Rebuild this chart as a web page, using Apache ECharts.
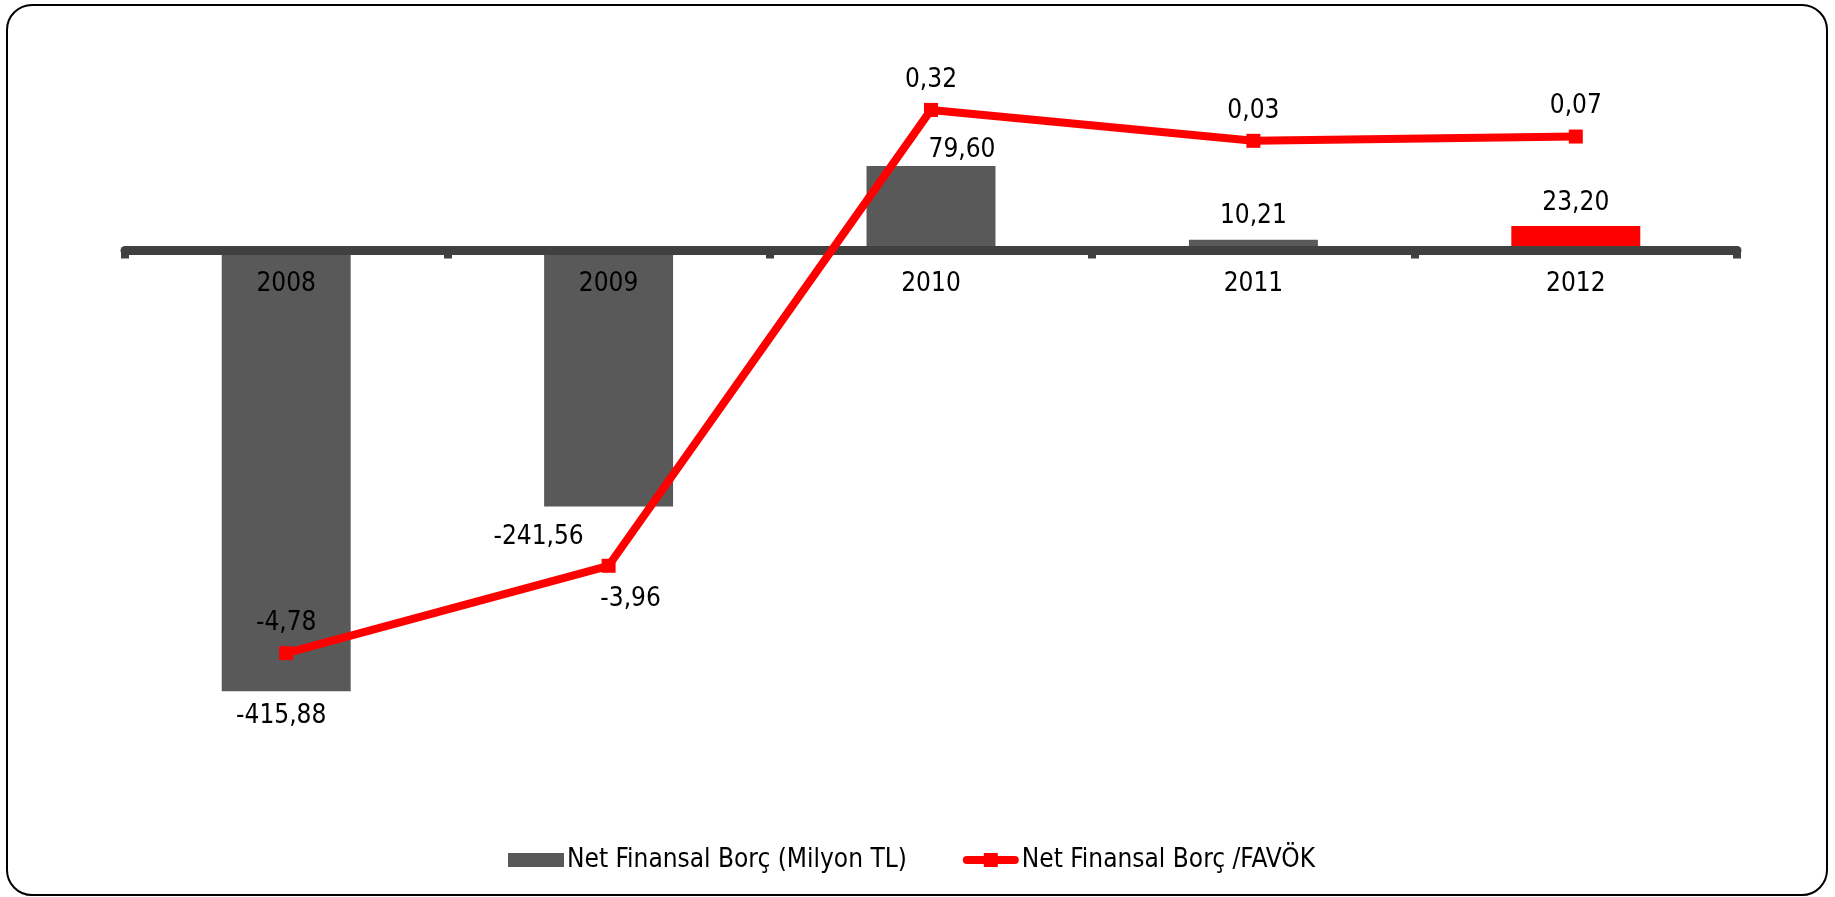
<!DOCTYPE html>
<html>
<head>
<meta charset="utf-8">
<script src="https://cdn.jsdelivr.net/npm/echarts@6/dist/echarts.min.js"></script>
<style>
  html, body { margin: 0; padding: 0; background: #fff; }
  #chart { width: 1835px; height: 897px; }
</style>
</head>
<body>
<div id="chart"></div>
<script>
// veriler
var years = ['2008', '2009', '2010', '2011', '2012']
var netDebt = [-415.88, -241.56, 79.60, 10.21, 23.20]
var debtToEbitda = [-4.78, -3.96, 0.32, 0.03, 0.07]

var barNames = 'Net Finansal Borç (Milyon TL)'
var lineName = 'Net Finansal Borç /FAVÖK'

// eksen araliklari (gizli)
var debtMin = -500, debtMax = 150
var ratioMin = -5.976, ratioMax = 0.493

// stil
var FONT = "'DejaVu Sans Condensed', 'Liberation Sans Narrow', sans-serif"
var GRID_H = 689
var barColors = ['#595959', '#595959', '#595959', '#595959', '#ff0000']
var barLabelOffsets = [[-5, 5], [-70, 11], [31, 4], [0, -3], [0, -3]]

var fmt = function (p) {
  return p.value.toFixed(2).replace('.', ',')
}

var barData = netDebt.map(function (v, i) {
  return {
    value: v,
    itemStyle: { color: barColors[i] },
    label: { position: v < 0 ? 'bottom' : 'top', offset: barLabelOffsets[i] }
  }
})

var lineData = debtToEbitda.map(function (v, i) {
  // 2009 etiketi noktanin altinda
  if (i === 1) return { value: v, label: { position: 'bottom', offset: [22, 3] } }
  return v
})

// x ekseni sifir cizgisine tasiniyor (etiketlerle birlikte)
var zeroFromBottom = GRID_H * (0 - debtMin) / (debtMax - debtMin)

var chart = echarts.init(document.getElementById('chart'))

chart.setOption({
  animation: false,
  textStyle: { fontFamily: FONT },
  graphic: [{
    type: 'rect',
    shape: { x: 7, y: 5, width: 1820, height: 890, r: 25 },
    style: { fill: 'none', stroke: '#000', lineWidth: 2 },
    z: 0
  }],
  grid: { left: 125, right: 98, top: 91.5, height: GRID_H },
  legend: {
    left: 503,
    top: 842,
    itemWidth: 56,
    itemHeight: 14,
    itemGap: 56,
    textStyle: { fontSize: 26, color: '#000', fontFamily: FONT, padding: [0, 0, 0, -2] },
    data: [
      { name: barNames, icon: 'rect' },
      {
        name: lineName,
        icon: 'path://M4,3H52A4,4 0 0 1 52,11H4A4,4 0 0 1 4,3Z M21,0H35V14H21Z',
        itemStyle: { color: '#ff0000' }
      }
    ]
  },
  xAxis: {
    type: 'category',
    data: years,
    z: 3,
    offset: -zeroFromBottom,
    axisLine: { onZero: false, lineStyle: { color: '#404040', width: 9 } },
    axisTick: { show: true, length: 8, lineStyle: { color: '#404040', width: 8 } },
    axisLabel: { fontSize: 26, color: '#000', margin: 21, fontFamily: FONT },
    splitLine: { show: false }
  },
  yAxis: [
    { type: 'value', min: debtMin, max: debtMax, show: false, splitLine: { show: false } },
    { type: 'value', min: ratioMin, max: ratioMax, show: false, splitLine: { show: false } }
  ],
  series: [
    {
      name: barNames,
      type: 'bar',
      barWidth: '40%',
      yAxisIndex: 0,
      itemStyle: { color: '#595959' },
      label: { show: true, distance: 7, fontSize: 26, color: '#000', fontFamily: FONT, formatter: fmt },
      data: barData,
      z: 2
    },
    {
      name: lineName,
      type: 'line',
      yAxisIndex: 1,
      symbol: 'rect',
      symbolSize: 14,
      lineStyle: { color: '#ff0000', width: 8 },
      itemStyle: { color: '#ff0000' },
      label: { show: true, position: 'top', distance: 10, fontSize: 26, color: '#000', fontFamily: FONT, formatter: fmt },
      data: lineData,
      z: 4
    }
  ]
})
</script>
</body>
</html>
